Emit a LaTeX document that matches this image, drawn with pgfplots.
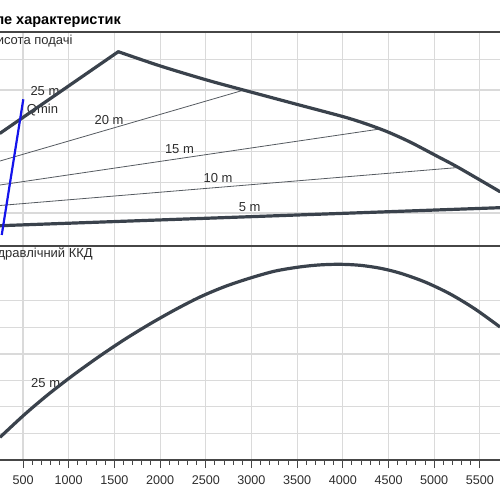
\documentclass[border=0pt]{standalone}
\usepackage{fontspec}
\setmainfont{Liberation Sans}
\usepackage{pgfplots}
\pgfplotsset{compat=1.18}
\definecolor{curvecol}{RGB}{58,66,76}
\definecolor{thincol}{RGB}{85,90,96}
\definecolor{gridcol}{RGB}{218,218,218}
\definecolor{axcol}{RGB}{70,70,70}
\definecolor{textcol}{RGB}{45,45,45}
\definecolor{qblue}{RGB}{20,20,235}
\tikzset{lab/.style={font=\fontsize{13bp}{15bp}\selectfont, text=textcol, inner sep=0pt}}
\begin{document}
\begin{tikzpicture}
\path[use as bounding box] (0,0) rectangle (500bp,500bp);
\clip (0,0) rectangle (500bp,500bp);
\pgfplotsset{
  panel/.style={
    scale only axis, width=500bp, height=214bp,
    xmin=248, xmax=5720, ymin=0, ymax=214,
    xtick={500,1000,...,5500},
    grid=major, major grid style={draw=gridcol, line width=1.1bp},
    yticklabels={}, ytick style={draw=none},
    axis line style={draw=none},
    /pgf/number format/assume math mode=true,
    /pgf/number format/1000 sep={},
  },
}
% top panel
\begin{axis}[panel, at={(0,254bp)}, anchor=south west,
  ytick={33,63.8,94.6,125.3,156,186.7},
  xticklabels={}, xtick style={draw=none},
  after end axis/.code={\draw[axcol, line width=1.1bp] (rel axis cs:0,1) -- (rel axis cs:1,1);}]
\addplot[thincol, line width=0.8bp] coordinates {(248,85) (2893,155.3)};
\addplot[thincol, line width=0.8bp] coordinates {(248,61) (4407,117)};
\addplot[thincol, line width=0.8bp] coordinates {(248,40.5) (5264,78.5)};
\node[lab] at (axis cs:740,155) {25 m};
\node[lab] at (axis cs:713,135.5) {Qmin};
\node[lab] at (axis cs:1441,126.3) {20 m};
\node[lab] at (axis cs:2212,96.7) {15 m};
\node[lab] at (axis cs:2634,67.7) {10 m};
\node[lab] at (axis cs:2981,38.8) {5 m};
\addplot[curvecol, line width=3.2bp, line cap=round] coordinates {(248,112.7) (1542.7,194.3)};
\addplot[curvecol, line width=3.2bp, smooth, line cap=round] coordinates {
 (1542.7,194.3) (2003,180) (2510,166) (2910.7,156)
 (3495,141.7) (4005,129.3) (4242.6,122.5) (4480,114.5) (4735,104) (5027,90)
 (5264,78.5) (5720,54.3)};
\addplot[curvecol, line width=3.2bp] coordinates {(248,20.3) (5720,38.3)};
\addplot[qblue, line width=2.2bp] coordinates {(267,11) (503,146.7)};
\end{axis}
% bottom panel
\begin{axis}[panel, at={(0,40bp)}, anchor=south west,
  ytick={26.7,53.3,79.3,106,132.7,159.3},
  minor x tick num=4, xtick pos=left, tick align=outside,
  major tick length=8bp, minor tick length=5bp,
  xtick style={draw=axcol, line width=1bp},
  xticklabel style={font=\fontsize{12.6bp}{15bp}\selectfont, text=textcol, yshift=-4bp},
  after end axis/.code={
    \draw[axcol, line width=1.1bp] (rel axis cs:0,1) -- (rel axis cs:1,1);
    \draw[axcol, line width=1.1bp] (rel axis cs:0,0) -- (rel axis cs:1,0);}]
\node[lab] at (axis cs:748,76.7) {25 m};
\addplot[curvecol, line width=3.2bp, smooth] coordinates {
 (248,22.7) (521.6,45.9) (795.2,67) (1068.8,86.2) (1342.4,104.1) (1616,120.8)
 (1889.6,136.1) (2163.2,150.2) (2436.8,163) (2710.4,173.5) (2984,181.9)
 (3257.6,188.9) (3531.2,193.1) (3750.1,195.1) (3969,195.7) (4187.8,194.7)
 (4406.7,191.8) (4625.6,186.9) (4899.2,178) (5172.8,166.1) (5446.4,151) (5720,133)};
\end{axis}
\node[anchor=base east, font=\bfseries\fontsize{14.5bp}{16bp}\selectfont, text=black, inner sep=0pt] at (121bp,475.5bp) {Поле характеристик};
\node[anchor=east, font=\fontsize{13bp}{15bp}\selectfont, text=textcol, inner sep=0pt] at (72.7bp,458.5bp) {Висота подачі};
\node[anchor=east, font=\fontsize{13bp}{15bp}\selectfont, text=textcol, inner sep=0pt] at (93bp,245.5bp) {Гідравлічний ККД};
\end{tikzpicture}
\end{document}
